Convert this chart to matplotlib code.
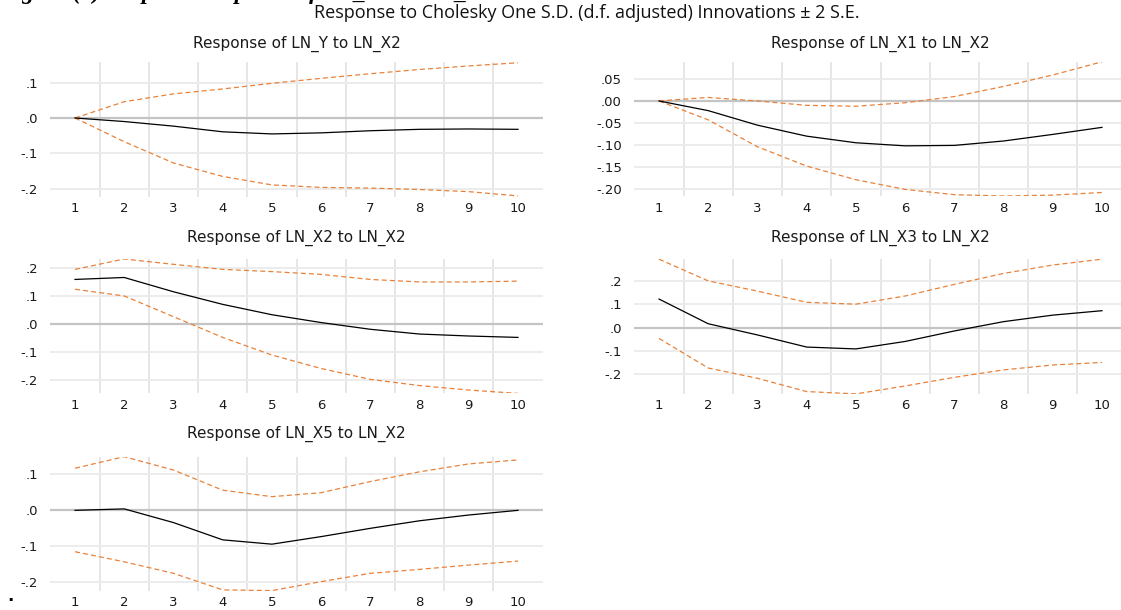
import numpy as np
import matplotlib
matplotlib.use("Agg")
from matplotlib import pyplot as plt
from matplotlib.ticker import FuncFormatter

periods = np.arange(1, 11)

titles = ["Response of LN_Y to LN_X2", "Response of LN_X1 to LN_X2",
          "Response of LN_X2 to LN_X2", "Response of LN_X3 to LN_X2",
          "Response of LN_X5 to LN_X2"]

# impulse responses (solid) and +/- 2 S.E. bands (dashed)
resp_y = [0.0, -0.010, -0.023, -0.039, -0.045, -0.042, -0.036, -0.032, -0.031, -0.032]
upper_y = [0.0, 0.046, 0.068, 0.082, 0.098, 0.112, 0.125, 0.137, 0.147, 0.156]
lower_y = [0.0, -0.067, -0.127, -0.165, -0.189, -0.196, -0.198, -0.202, -0.208, -0.220]

resp_x1 = [0.0, -0.022, -0.055, -0.080, -0.095, -0.102, -0.101, -0.091, -0.076, -0.060]
upper_x1 = [0.0, 0.008, 0.0, -0.010, -0.012, -0.004, 0.010, 0.033, 0.059, 0.089]
lower_x1 = [0.0, -0.043, -0.104, -0.148, -0.179, -0.201, -0.213, -0.216, -0.214, -0.208]

resp_x2 = [0.158, 0.165, 0.114, 0.069, 0.032, 0.004, -0.020, -0.037, -0.044, -0.049]
upper_x2 = [0.194, 0.231, 0.212, 0.194, 0.186, 0.176, 0.158, 0.149, 0.149, 0.152]
lower_x2 = [0.123, 0.099, 0.025, -0.049, -0.112, -0.160, -0.199, -0.221, -0.237, -0.249]

resp_x3 = [0.123, 0.017, -0.031, -0.083, -0.091, -0.059, -0.014, 0.026, 0.054, 0.073]
upper_x3 = [0.294, 0.201, 0.157, 0.109, 0.101, 0.136, 0.186, 0.233, 0.269, 0.294]
lower_x3 = [-0.046, -0.173, -0.217, -0.274, -0.284, -0.250, -0.213, -0.181, -0.160, -0.149]

resp_x5 = [0.0, 0.004, -0.034, -0.082, -0.094, -0.073, -0.050, -0.029, -0.013, 0.0]
upper_x5 = [0.117, 0.149, 0.112, 0.056, 0.038, 0.049, 0.080, 0.107, 0.129, 0.140]
lower_x5 = [-0.115, -0.143, -0.175, -0.221, -0.223, -0.198, -0.175, -0.164, -0.152, -0.141]

yticks = [[-0.2, -0.1, 0.0, 0.1],
          [-0.20, -0.15, -0.10, -0.05, 0.0, 0.05],
          [-0.2, -0.1, 0.0, 0.1, 0.2],
          [-0.2, -0.1, 0.0, 0.1, 0.2],
          [-0.2, -0.1, 0.0, 0.1]]
decimals = [1, 2, 1, 1, 1]
ylims = [(-0.222, 0.157), (-0.216, 0.089), (-0.249, 0.231), (-0.284, 0.294), (-0.223, 0.149)]

series = [(resp_y, upper_y, lower_y), (resp_x1, upper_x1, lower_x1),
          (resp_x2, upper_x2, lower_x2), (resp_x3, upper_x3, lower_x3),
          (resp_x5, upper_x5, lower_x5)]

W, H = 1121, 610
# axes boxes in pixels: left, top, right, bottom
boxes = [(50.4, 62.4, 542.6, 196.6), (634.4, 61.8, 1126.6, 196.0),
         (50.4, 259.0, 542.6, 393.4), (634.4, 259.2, 1126.6, 393.9),
         (50.4, 456.7, 542.6, 590.6)]
title_y = [44, 44, 238, 238, 434]

ORANGE = "#e8823a"


def make_fmt(d):
    def f(v, pos):
        s = f"{v:.{d}f}"
        if s.startswith("-0."):
            s = "-" + s[2:]
        elif s.startswith("0."):
            s = s[1:]
        return s
    return FuncFormatter(f)


fig = plt.figure(figsize=(W / 100, H / 100), dpi=100)

for i in range(5):
    l, t, r, b = boxes[i]
    ax = fig.add_axes([l / W, 1 - b / H, (r - l) / W, (b - t) / H])
    resp, up, lo = series[i]
    ax.plot(periods, up, color=ORANGE, lw=0.9, ls=(0, (4, 2.5)), zorder=3)
    ax.plot(periods, lo, color=ORANGE, lw=0.9, ls=(0, (4, 2.5)), zorder=3)
    ax.plot(periods, resp, color="black", lw=0.9, zorder=4)
    ax.axhline(0, color="#c4c4c4", lw=1.6, zorder=2)
    ax.set_xlim(0.5, 10.5)
    ax.set_ylim(*ylims[i])
    ax.set_xticks(periods)
    ax.set_xticks(np.arange(1.5, 10, 1), minor=True)
    ax.set_yticks(yticks[i])
    ax.yaxis.set_major_formatter(make_fmt(decimals[i]))
    ax.grid(which="minor", axis="x", color="#e6e6e6", lw=1.4, zorder=1)
    ax.grid(which="major", axis="y", color="#ececec", lw=1.4, zorder=1)
    ax.tick_params(which="both", length=0, labelsize=9.5, colors="#1a1a1a")
    ax.tick_params(axis="y", pad=9)
    ax.tick_params(axis="x", pad=4)
    for s in ax.spines.values():
        s.set_visible(False)
    fig.text((l + r) / 2 / W, 1 - title_y[i] / H, titles[i], ha="center", va="center",
             fontsize=11, color="#1a1a1a")

fig.text(587 / W, 1 - 13 / H, "Response to Cholesky One S.D. (d.f. adjusted) Innovations \u00b1 2 S.E.",
         ha="center", va="center", fontsize=13, family="Open Sans", color="#111111")
fig.text(0.0, 1 + 1 / H, "Figure (4): Impulse Response of LN_X2 to LN_X2", ha="left", va="baseline",
         fontsize=17, family="Liberation Serif", weight="bold", style="italic")
fig.text(10 / W, 1 - 601 / H, ".", ha="center", va="baseline", fontsize=12, weight="bold")

fig.savefig("out.png", dpi=100)
